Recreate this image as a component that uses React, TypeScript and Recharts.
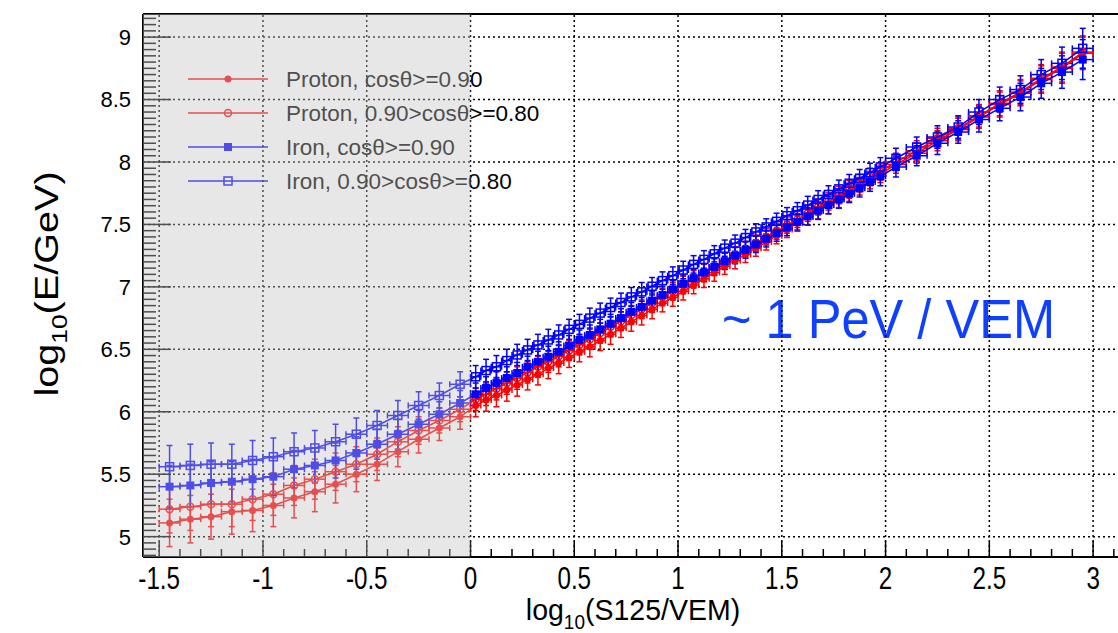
import React from 'react';
import {
  ComposedChart,
  Scatter,
  XAxis,
  YAxis,
  ErrorBar,
  ReferenceArea,
  ReferenceLine,
} from 'recharts';

// bin centres in log10(S125/VEM)
const X_CENTERS = [
  -1.45, -1.35, -1.25, -1.15, -1.05, -0.95, -0.85, -0.75, -0.65, -0.55, -0.45, -0.35, -0.25, -0.15, -0.05,
  0.025, 0.075, 0.125, 0.175, 0.225, 0.275, 0.325, 0.375, 0.425, 0.475, 0.525, 0.575, 0.625, 0.675, 0.725, 0.775, 0.825, 0.875, 0.925, 0.975,
  1.025, 1.075, 1.125, 1.175, 1.225, 1.275, 1.325, 1.375, 1.425, 1.475, 1.525, 1.575, 1.625, 1.675, 1.725, 1.775, 1.825, 1.875, 1.925, 1.975,
  2.05, 2.15, 2.25, 2.35, 2.45, 2.55, 2.65, 2.75, 2.85, 2.95,
];

// half bin widths (x error)
const X_HALF = [
  0.05, 0.05, 0.05, 0.05, 0.05, 0.05, 0.05, 0.05, 0.05, 0.05, 0.05, 0.05, 0.05, 0.05, 0.05,
  0.025, 0.025, 0.025, 0.025, 0.025, 0.025, 0.025, 0.025, 0.025, 0.025, 0.025, 0.025, 0.025, 0.025, 0.025, 0.025, 0.025, 0.025, 0.025, 0.025,
  0.025, 0.025, 0.025, 0.025, 0.025, 0.025, 0.025, 0.025, 0.025, 0.025, 0.025, 0.025, 0.025, 0.025, 0.025, 0.025, 0.025, 0.025, 0.025, 0.025,
  0.05, 0.05, 0.05, 0.05, 0.05, 0.05, 0.05, 0.05, 0.05, 0.05,
];

const PROTON_VERT = [
  5.11, 5.14, 5.16, 5.2, 5.21, 5.25, 5.31, 5.36, 5.42, 5.5, 5.58, 5.68, 5.78, 5.87, 5.96,
  6.05, 6.095, 6.13, 6.175, 6.215, 6.26, 6.3, 6.35, 6.39, 6.435, 6.48, 6.52, 6.57, 6.62, 6.67, 6.72, 6.77, 6.82, 6.87, 6.915,
  6.965, 7.015, 7.065, 7.115, 7.165, 7.21, 7.26, 7.31, 7.36, 7.41, 7.46, 7.51, 7.56, 7.61, 7.655, 7.705, 7.755, 7.805, 7.855, 7.905,
  7.98, 8.07, 8.17, 8.26, 8.36, 8.46, 8.55, 8.66, 8.75, 8.87,
];

const PROTON_INCL = [
  5.22, 5.24, 5.26, 5.26, 5.3, 5.34, 5.41, 5.46, 5.52, 5.58, 5.66, 5.76, 5.85, 5.93, 6.02,
  6.1, 6.14, 6.185, 6.23, 6.27, 6.315, 6.36, 6.4, 6.445, 6.49, 6.535, 6.58, 6.63, 6.68, 6.725, 6.775, 6.82, 6.87, 6.92, 6.965,
  7.015, 7.06, 7.11, 7.16, 7.205, 7.255, 7.3, 7.35, 7.4, 7.445, 7.495, 7.54, 7.59, 7.64, 7.685, 7.735, 7.78, 7.83, 7.88, 7.925,
  8.0, 8.09, 8.19, 8.27, 8.37, 8.47, 8.56, 8.67, 8.76, 8.88,
];

const IRON_VERT = [
  5.4, 5.41, 5.43, 5.44, 5.46, 5.48, 5.54, 5.57, 5.61, 5.67, 5.74, 5.82, 5.9, 5.98, 6.07,
  6.14, 6.19, 6.23, 6.27, 6.31, 6.36, 6.4, 6.44, 6.48, 6.53, 6.575, 6.615, 6.66, 6.705, 6.75, 6.8, 6.84, 6.89, 6.935, 6.98,
  7.025, 7.07, 7.115, 7.16, 7.205, 7.25, 7.295, 7.34, 7.385, 7.43, 7.475, 7.52, 7.565, 7.61, 7.655, 7.7, 7.745, 7.79, 7.84, 7.885,
  7.96, 8.05, 8.15, 8.24, 8.34, 8.43, 8.52, 8.63, 8.72, 8.82,
];

const IRON_INCL = [
  5.56, 5.57, 5.58, 5.58, 5.61, 5.64, 5.68, 5.71, 5.76, 5.82, 5.89, 5.97, 6.05, 6.13, 6.22,
  6.28, 6.33, 6.36, 6.41, 6.455, 6.495, 6.535, 6.575, 6.615, 6.66, 6.7, 6.75, 6.79, 6.835, 6.875, 6.92, 6.96, 7.005, 7.05, 7.09,
  7.135, 7.18, 7.22, 7.265, 7.31, 7.35, 7.395, 7.44, 7.48, 7.525, 7.57, 7.61, 7.655, 7.7, 7.74, 7.785, 7.83, 7.87, 7.915, 7.96,
  8.03, 8.12, 8.2, 8.28, 8.4, 8.5, 8.58, 8.7, 8.79, 8.91,
];

const ERR_PROTON = [
  0.19, 0.19, 0.18, 0.18, 0.17, 0.17, 0.16, 0.16, 0.15, 0.14, 0.13, 0.12, 0.11, 0.1, 0.1,
  0.09, 0.09, 0.09, 0.09, 0.09, 0.085, 0.085, 0.085, 0.085, 0.08, 0.08, 0.08, 0.08, 0.08, 0.075, 0.075, 0.075, 0.075, 0.07, 0.07,
  0.07, 0.07, 0.07, 0.07, 0.065, 0.065, 0.065, 0.065, 0.065, 0.065, 0.065, 0.065, 0.065, 0.065, 0.07, 0.07, 0.07, 0.07, 0.07, 0.07,
  0.07, 0.08, 0.08, 0.09, 0.09, 0.1, 0.1, 0.11, 0.12, 0.13,
];

const ERR_IRON = [
  0.17, 0.17, 0.17, 0.16, 0.16, 0.15, 0.15, 0.14, 0.14, 0.13, 0.12, 0.12, 0.11, 0.1, 0.1,
  0.09, 0.09, 0.09, 0.09, 0.085, 0.085, 0.085, 0.085, 0.08, 0.08, 0.08, 0.08, 0.08, 0.075, 0.075, 0.075, 0.075, 0.07, 0.07, 0.07,
  0.07, 0.07, 0.07, 0.065, 0.065, 0.065, 0.065, 0.065, 0.065, 0.065, 0.065, 0.065, 0.07, 0.07, 0.07, 0.07, 0.07, 0.07, 0.075, 0.075,
  0.08, 0.08, 0.09, 0.09, 0.1, 0.1, 0.11, 0.12, 0.13, 0.16,
];

const X_LABELS = [-1.5, -1, -0.5, 0, 0.5, 1, 1.5, 2, 2.5, 3];
const Y_LABELS = [5, 5.5, 6, 6.5, 7, 7.5, 8, 8.5, 9];

const SERIES_NAMES = [
  'Proton, cosθ>=0.90',
  'Proton, 0.90>cosθ>=0.80',
  'Iron, cosθ>=0.90',
  'Iron, 0.90>cosθ>=0.80',
];

const X_MIN = -1.578;
const X_MAX = 3.12;
const Y_MIN = 4.837;
const Y_MAX = 9.185;

const RED = '#ff0000';
const BLUE = '#0000ff';
const FONT = "'Liberation Sans', Arial, Helvetica, sans-serif";

const range = (a: number, b: number, step: number) => {
  const out: number[] = [];
  for (let v = a; v <= b + 1e-9; v += step) out.push(Math.round(v * 1000) / 1000);
  return out;
};
// minor tick positions (ROOT style sub-divisions)
const X_TICKS = range(-1.5, 3.1, 0.1);
const Y_TICKS = range(4.85, 9.15, 0.05);
const isIn = (list: number[], v: number) => list.some((t) => Math.abs(t - v) < 1e-6);

const rows = (ys: number[], errs: number[]) =>
  X_CENTERS.map((x, i) => ({ x, y: ys[i], xe: X_HALF[i], ye: errs[i] }));

const SERIES = [
  { name: SERIES_NAMES[0], data: rows(PROTON_VERT, ERR_PROTON), color: RED, kind: 'dot' },
  { name: SERIES_NAMES[1], data: rows(PROTON_INCL, ERR_PROTON), color: RED, kind: 'ring' },
  { name: SERIES_NAMES[2], data: rows(IRON_VERT, ERR_IRON), color: BLUE, kind: 'square' },
  { name: SERIES_NAMES[3], data: rows(IRON_INCL, ERR_IRON), color: BLUE, kind: 'box' },
];

function Marker({ cx, cy, kind, color }: any) {
  if (cx == null || cy == null) return null;
  if (kind === 'dot') return <circle cx={cx} cy={cy} r={3.5} fill={color} />;
  if (kind === 'ring')
    return <circle cx={cx} cy={cy} r={3.5} fill="none" stroke={color} strokeWidth={1.5} />;
  if (kind === 'square') return <rect x={cx - 4} y={cy - 4} width={8} height={8} fill={color} />;
  return (
    <rect x={cx - 4} y={cy - 4} width={8} height={8} fill="none" stroke={color} strokeWidth={1.5} />
  );
}

// ticks point into the frame, labels only on the major ones
function XTick({ x, y, payload }: any) {
  const v = payload.value;
  const major = isIn(X_LABELS, v);
  return (
    <g>
      <line x1={x} x2={x} y1={y} y2={y - (major ? 16 : 8)} stroke="#000" strokeWidth={1.5} />
      {major && (
        <text
          transform={`translate(${x} ${y + 32}) scale(0.78 1)`}
          textAnchor="middle"
          fontSize={31}
          fontFamily={FONT}
          fill="#000"
        >
          {String(v)}
        </text>
      )}
    </g>
  );
}

function YTick({ x, y, payload }: any) {
  const v = payload.value;
  const major = isIn(Y_LABELS, v);
  return (
    <g>
      <line x1={x} x2={x + (major ? 28 : 13)} y1={y} y2={y} stroke="#000" strokeWidth={1.5} />
      {major && (
        <text x={x - 12} y={y} dy="0.36em" textAnchor="end" fontSize={22} fontFamily={FONT} fill="#000">
          {String(v)}
        </text>
      )}
    </g>
  );
}

function LegendBox() {
  const rowsY = [79, 113, 147, 181];
  return (
    <g>
      {SERIES.map((s, i) => (
        <g key={s.name}>
          <line x1={188} x2={268} y1={rowsY[i]} y2={rowsY[i]} stroke={s.color} strokeWidth={1.5} />
          <Marker cx={228} cy={rowsY[i]} kind={s.kind} color={s.color} />
          <text x={286} y={rowsY[i]} dy="0.36em" fontSize={22.5} fontFamily={FONT} fill="#000">
            {s.name}
          </text>
        </g>
      ))}
    </g>
  );
}

function Titles() {
  return (
    <g fontFamily={FONT} fill="#000">
      <text transform="translate(58 284) rotate(-90) scale(1.2 1)" textAnchor="middle" fontSize={33}>
        log
        <tspan fontSize={22} dy={9}>
          10
        </tspan>
        <tspan dy={-9}>(E/GeV)</tspan>
      </text>
      <text transform="translate(633 620) scale(0.95 1)" textAnchor="middle" fontSize={30}>
        log
        <tspan fontSize={20} dy={9}>
          10
        </tspan>
        <tspan dy={-9}>(S125/VEM)</tspan>
      </text>
      <text x={722} y={338} fontSize={56} fill="#1040ff" textLength={333} lengthAdjust="spacingAndGlyphs">
        ~ 1 PeV / VEM
      </text>
    </g>
  );
}

const gridStyle = { stroke: '#000', strokeWidth: 1.5, strokeDasharray: '2 3' };

export default function App() {
  return (
    <div
      style={{
        position: 'absolute',
        left: 0,
        top: 0,
        width: 1118,
        height: 633,
        overflow: 'hidden',
        background: '#fff',
      }}
    >
      <ComposedChart width={1118} height={633} margin={{ top: 14, right: 0, bottom: 0, left: 0 }}>
        <XAxis
          xAxisId="x"
          dataKey="x"
          type="number"
          domain={[X_MIN, X_MAX]}
          allowDataOverflow
          ticks={X_TICKS}
          interval={0}
          height={76}
          tickSize={0}
          tickMargin={0}
          tickLine={false}
          tick={<XTick />}
          axisLine={{ stroke: '#000', strokeWidth: 2 }}
        />
        <YAxis
          yAxisId="y"
          dataKey="y"
          type="number"
          domain={[Y_MIN, Y_MAX]}
          allowDataOverflow
          ticks={Y_TICKS}
          interval={0}
          width={143}
          tickSize={0}
          tickMargin={0}
          tickLine={false}
          tick={<YTick />}
          axisLine={{ stroke: '#000', strokeWidth: 2 }}
        />
        {X_LABELS.map((v) => (
          <ReferenceLine key={`gx${v}`} xAxisId="x" yAxisId="y" x={v} {...gridStyle} />
        ))}
        {Y_LABELS.map((v) => (
          <ReferenceLine key={`gy${v}`} xAxisId="x" yAxisId="y" y={v} {...gridStyle} />
        ))}
        <ReferenceLine xAxisId="x" yAxisId="y" y={Y_MAX} stroke="#000" strokeWidth={2} />
        <LegendBox />
        {SERIES.map((s) => (
          <Scatter
            key={s.name}
            name={s.name}
            xAxisId="x"
            yAxisId="y"
            data={s.data}
            dataKey="y"
            fill={s.color}
            line={{ stroke: s.color, strokeWidth: 1.5 }}
            lineType="joint"
            shape={(p: any) => <Marker cx={p.cx} cy={p.cy} kind={s.kind} color={s.color} />}
            isAnimationActive={false}
          >
            <ErrorBar dataKey="ye" direction="y" width={3} stroke={s.color} strokeWidth={1.5} />
            <ErrorBar dataKey="xe" direction="x" width={3} stroke={s.color} strokeWidth={1.5} />
          </Scatter>
        ))}
        <Titles />
        <ReferenceArea
          xAxisId="x"
          yAxisId="y"
          x1={X_MIN}
          x2={0}
          y1={Y_MIN}
          y2={Y_MAX}
          fill="#c4c4c4"
          fillOpacity={0.4}
          stroke="none"
          zIndex={2000}
        />
      </ComposedChart>
    </div>
  );
}
